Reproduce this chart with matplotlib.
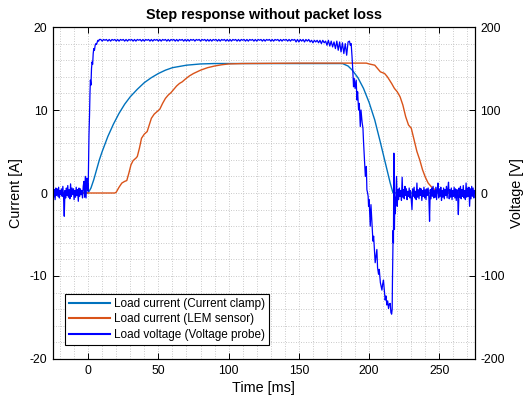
import numpy as np
import matplotlib
matplotlib.use('Agg')
from matplotlib import pyplot as plt
from matplotlib.ticker import MultipleLocator

plt.rcParams['font.family'] = ['Liberation Sans', 'DejaVu Sans']
plt.rcParams['axes.unicode_minus'] = False

# Current clamp [A]
clamp_t = [-25, 0, 2, 4, 6, 8, 10, 14, 18, 22, 26, 30, 35, 40, 45, 50, 55, 60, 70, 80, 90,
           181, 185, 188, 192, 196, 200, 204, 208, 212, 215, 217, 275]
clamp_i = [0, 0, 0.6, 1.6, 2.8, 4.0, 5.0, 6.8, 8.3, 9.6, 10.7, 11.6, 12.5, 13.3, 13.9, 14.4, 14.8, 15.1, 15.4, 15.55, 15.6,
           15.6, 15.3, 14.8, 13.9, 12.6, 10.9, 8.8, 6.1, 3.3, 1.2, 0, 0]

# LEM sensor [A]
lem_t = [-25, 19, 20, 22, 24, 26, 27.5, 29, 30.5, 32, 34, 35, 36.5, 38, 40, 42, 43.5, 45, 47, 49, 51, 53, 55,
         57, 59, 61, 63, 65, 67, 69, 72, 75, 80, 85, 90, 95, 100, 110, 150, 198, 200, 204, 206, 208, 211,
         213, 216, 218, 220, 222, 224, 226, 228, 230, 232, 234, 236, 238, 240, 242, 244, 246, 248, 251, 255, 275]
lem_i = [0, 0, 0.1, 0.7, 1.2, 1.4, 1.5, 2.4, 3.4, 3.9, 4.2, 4.4, 5.4, 6.6, 7.1, 7.4, 8.2, 9.0, 9.5, 9.8, 10.1, 10.8, 11.4,
         11.8, 12.1, 12.5, 12.9, 13.2, 13.4, 13.7, 14.1, 14.4, 14.8, 15.1, 15.3, 15.45, 15.55, 15.6, 15.65, 15.65, 15.55, 15.4, 15.0, 14.6, 14.4,
         14.0, 13.2, 12.6, 12.2, 11.6, 10.6, 9.2, 8.2, 7.8, 6.4, 5.0, 4.0, 2.8, 1.9, 1.2, 0.8, 0.5, 0.3, 0.1, 0, 0]

# Voltage probe [V]
pre_v = [2, -5, 4, -8, 6, -3, 5, -4, 7, -6,
         3, -2, 5, -4, 8, -5, -28, 3, -6, 6,
         -3, 9, -5, 4, -7, 11, -4, 6, -2, 5,
         -8, 3, -5, 7, -3, 4, -10, 6, -4, 5,
         -2, 3, -6, 8, 14, -5, 20, -6, 18, 12]
rise_t = [0, 0.3, 0.6, 1.0, 1.3, 1.6, 2.0, 2.4, 2.8, 3.2, 3.6, 4.0, 4.5, 5.0, 5.5, 6.0, 6.5, 7.0, 7.5, 8.0]
rise_v = [2, 40, 70, 95, 120, 136, 130, 150, 158, 155, 168, 174, 172, 178, 180, 179, 182, 184, 183, 185]
plateau_v = [185, 183, 185, 184, 185, 183, 185, 183, 185, 184,
             185, 183, 185, 183, 185, 184, 185, 183, 185, 183,
             185, 184, 185, 183, 185, 183, 185, 184, 185, 183,
             185, 183, 185, 184, 185, 183, 185, 183, 185, 184,
             185, 183, 185, 183, 185, 184, 185, 183, 185, 183,
             185, 184, 185, 183, 185, 183, 185, 184, 185, 183,
             185, 183, 185, 183, 185, 184, 185, 183, 185, 184,
             185, 183, 185, 184, 185, 183, 185, 183, 185, 183,
             185, 184, 185, 183, 185, 183, 185, 184, 185, 183,
             185, 183, 185, 183, 185, 184, 185, 183, 185, 183,
             185, 184, 185, 183, 185, 183, 185, 184, 185, 183,
             185, 183, 185, 184, 185, 183, 185, 183, 185, 184,
             185, 183, 185, 183, 185, 184, 185, 183, 185, 183,
             185, 184, 185, 183, 185, 183, 185, 184, 185, 182,
             185, 182, 185, 183, 185, 182, 185, 183, 185, 182,
             184, 181, 184, 182, 184, 181, 184, 180, 184, 181,
             183, 178, 184, 177, 183, 176, 182, 174, 183, 172,
             182, 170, 181, 168, 180, 166, 182]
fall_t = [186.0, 186.6, 187.2, 187.8, 188.3, 188.9, 189.4, 190.0, 190.8, 191.3, 191.8, 192.5, 193.0, 193.7,
          194.2, 195.0, 195.6, 196.0, 196.7, 197.3, 198.0, 198.4, 198.9, 199.3, 199.6, 200.0, 200.8, 201.3,
          202.0, 202.7, 203.2, 204.3, 205.0, 205.5, 206.0, 206.7, 207.2, 208.0, 209.1, 209.6, 210.2, 211.0,
          211.4, 212.0, 212.6, 213.2, 213.8, 214.3, 215.0, 215.5, 216.0, 216.4, 216.6, 216.9, 217.1, 217.3,
          217.4, 217.6, 217.8, 218.0, 218.3, 218.6]
fall_v = [183, 178, 180, 165, 150, 128, 138, 126, 136, 112, 122, 100, 108, 80,
          100, 85, 78, 62, 40, 20, 32, 4, 0, -4, -16, -8, -40, -14,
          -35, -58, -52, -84, -75, -68, -90, -98, -92, -108, -117, -110, -105, -122,
          -129, -124, -135, -130, -139, -134, -133, -144, -146, -140, -105, -70, -45, -60,
          -20, 48, -10, -44, -5, -25]
post_v = [-6, 20, -16, 4, -8, 6, -4, 3, -9, 19,
          -5, 4, -7, 8, -3, 5, -8, 2, -4, 6,
          -6, 3, -9, -20, 5, -4, 7, -6, 2, -8,
          12, -5, 4, -7, 6, -3, 5, -9, 3, -4,
          7, -6, 4, -8, 5, -3, 6, -5, -34, 4,
          -7, 6, -4, 8, -6, 3, -5, 7, -8, 4,
          12, -6, 5, -4, 7, -9, 3, -5, 6, -7,
          4, -3, 8, -6, 5, 13, -7, 4, -5, 6,
          -8, 3, -4, 7, -6, 5, -9, 4, -3, -26,
          6, -5, 8, -7, 4, -4, 9, -6, 3, -8,
          12, -5, 6, -4, 7, -16, 5, -7, 8, -4,
          6, -6, 3]

volt_t = np.concatenate([np.arange(-25, 0, 0.5), rise_t, np.arange(9, 186, 1.0),
                         fall_t, np.arange(219, 275.01, 0.5)])
volt_v = np.concatenate([pre_v, rise_v, plateau_v, fall_v, post_v])

c_clamp = '#0072BD'
c_lem = '#D95319'
c_volt = '#0000FF'

fig = plt.figure(figsize=(5.27, 4.05), dpi=100)
ax1 = fig.add_axes([0.1006, 0.1136, 0.7998, 0.8197])
ax2 = ax1.twinx()

l1, = ax1.plot(clamp_t, clamp_i, color=c_clamp, lw=1.0, label='Load current (Current clamp)')
l2, = ax1.plot(lem_t, lem_i, color=c_lem, lw=1.0, label='Load current (LEM sensor)')
l3, = ax2.plot(volt_t, volt_v, color=c_volt, lw=0.9, label='Load voltage (Voltage probe)')

ax1.set_xlim(-25, 275)
ax1.set_ylim(-20, 20)
ax2.set_ylim(-200, 200)
ax1.set_xticks([0, 50, 100, 150, 200, 250])
ax1.set_yticks([-20, -10, 0, 10, 20])
ax2.set_yticks([-200, -100, 0, 100, 200])
ax1.xaxis.set_minor_locator(MultipleLocator(10))
ax1.yaxis.set_minor_locator(MultipleLocator(2))

ax1.grid(which='both', linestyle=(0, (1, 2)), color='#b8b8b8', lw=0.6)
ax1.tick_params(which='major', direction='in', length=4, width=0.7, labelsize=8.8,
                top=True, right=False, pad=4)
ax1.tick_params(which='minor', length=0, top=True, right=False)
ax2.tick_params(which='major', direction='in', length=4, width=0.7, labelsize=8.8, pad=4)

for ax in (ax1, ax2):
    for s in ax.spines.values():
        s.set_linewidth(0.8)
        s.set_color('black')

ax1.set_xlabel('Time [ms]', fontsize=10.4, labelpad=3)
ax1.set_ylabel('Current [A]', fontsize=10.4, labelpad=5)
ax2.set_ylabel('Voltage [V]', fontsize=10.4, labelpad=4)
ax1.set_title('Step response without packet loss', fontsize=10.4, fontweight='bold', pad=6)

leg = ax2.legend(handles=[l1, l2, l3], loc='lower left', bbox_to_anchor=(0.028, 0.042),
                 fontsize=8.5, handlelength=3.5, handletextpad=0.3, labelspacing=0.3,
                 borderpad=0.35, borderaxespad=0, fancybox=False, framealpha=1,
                 edgecolor='black')
leg.get_frame().set_linewidth(0.8)
for h in leg.legend_handles:
    h.set_linewidth(1.5)

fig.savefig('out.png', dpi=100)
